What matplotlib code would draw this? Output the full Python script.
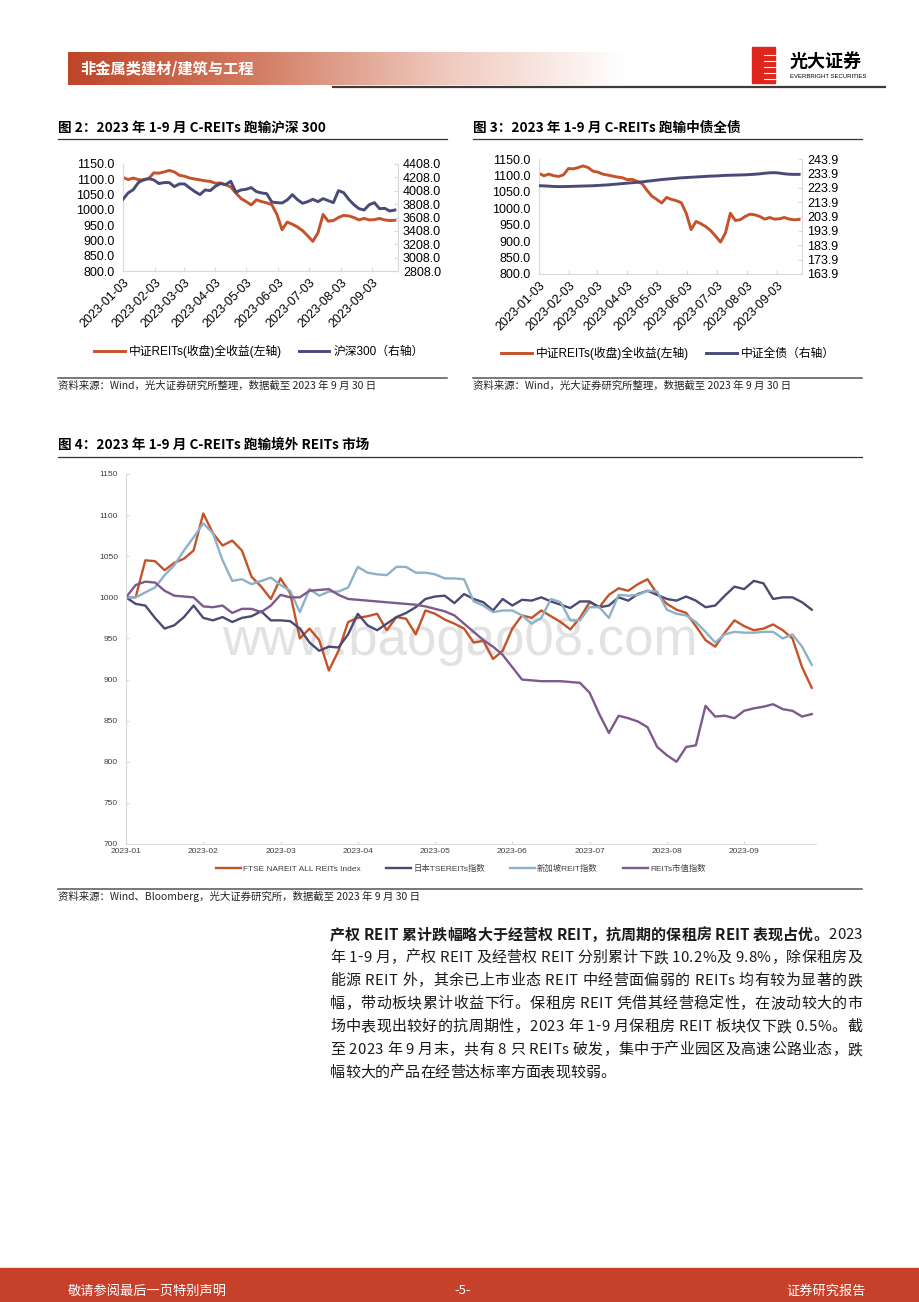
import numpy as np
import pandas as pd
import matplotlib
matplotlib.use("Agg")
import matplotlib.pyplot as plt
from matplotlib.colors import LinearSegmentedColormap
from matplotlib.patches import Rectangle
from matplotlib.ticker import FormatStrFormatter
from matplotlib.font_manager import FontProperties, findfont
from matplotlib.ft2font import FT2Font

plt.rcParams['font.family'] = ['Liberation Sans', 'Noto Sans CJK SC', 'DejaVu Sans']
plt.rcParams['axes.unicode_minus'] = False
CJK = ['Noto Sans CJK SC', 'DejaVu Sans']

W, H = 920, 1302

# 图2 / 图3 数据 (每5天取一个点, 从 2023-01-03 开始)
reits = [1106, 1099, 1104, 1099, 1097, 1102, 1121, 1120, 1124, 1129,
         1124, 1113, 1110, 1104, 1101, 1098, 1095, 1093, 1087, 1088,
         1082, 1075, 1055, 1037, 1027, 1016, 1033, 1027, 1023, 1017,
         985, 935, 960, 953, 944, 932, 915, 897, 925, 985,
         963, 965, 975, 982, 980, 975, 967, 972, 967, 968,
         972, 967, 965, 966]
hs300 = [3880, 3975, 4025, 4130, 4175, 4190, 4170, 4115, 4130, 4130,
         4070, 4110, 4110, 4050, 3995, 3950, 4020, 4010, 4075, 4115,
         4100, 4150, 3985, 4020, 4030, 4055, 3995, 3975, 3965, 3840,
         3830, 3825, 3870, 3950, 3875, 3820, 3845, 3880, 3845, 3890,
         3860, 3830, 4010, 3980, 3880, 3800, 3740, 3720, 3800, 3830,
         3740, 3745, 3705, 3720]
bond = [225.3, 225.2, 225.0, 224.8, 224.7, 224.7, 224.8, 224.9, 225.0, 225.1,
        225.2, 225.3, 225.5, 225.7, 225.9, 226.2, 226.5, 226.8, 227.1, 227.4,
        227.7, 228.0, 228.4, 228.8, 229.2, 229.6, 229.9, 230.2, 230.5, 230.8,
        231.0, 231.2, 231.4, 231.6, 231.8, 232.0, 232.1, 232.3, 232.5, 232.6,
        232.7, 232.8, 232.9, 233.1, 233.3, 233.6, 234.0, 234.3, 234.4, 234.1,
        233.6, 233.3, 233.2, 233.2]
dates = pd.date_range('2023-01-03', periods=len(reits), freq='5D')
month_ticks = pd.to_datetime([f'2023-{m:02d}-03' for m in range(1, 10)])

# 图4 数据 (每月8个点)
ftse = [1000, 1000, 1045, 1044, 1033, 1042, 1047, 1057, 1102, 1078,
        1063, 1069, 1057, 1025, 1013, 998, 1023, 1005, 950, 962,
        948, 911, 935, 970, 975, 977, 980, 960, 976, 974,
        955, 984, 980, 973, 968, 962, 945, 947, 925, 935,
        962, 978, 975, 984, 977, 970, 961, 975, 994, 988,
        1003, 1011, 1008, 1016, 1022, 1004, 992, 985, 981, 965,
        948, 940, 957, 972, 965, 960, 962, 967, 960, 950,
        915, 890]
tse = [1000, 992, 990, 975, 962, 966, 976, 990, 975, 972,
       976, 970, 975, 977, 983, 972, 972, 971, 962, 945,
       935, 940, 939, 955, 980, 966, 960, 968, 976, 981,
       988, 998, 1001, 1002, 993, 1004, 998, 994, 984, 998,
       990, 997, 996, 1000, 995, 991, 987, 995, 995, 988,
       990, 1000, 996, 1004, 1008, 1003, 998, 996, 1001, 996,
       988, 990, 1002, 1013, 1010, 1020, 1017, 998, 1000, 1000,
       994, 985]
sg = [1000, 1000, 1006, 1012, 1027, 1039, 1057, 1073, 1090, 1078,
      1045, 1020, 1022, 1016, 1020, 1024, 1015, 1008, 982, 1010,
      1002, 1007, 1007, 1012, 1037, 1030, 1028, 1027, 1037, 1037,
      1030, 1030, 1028, 1023, 1023, 1022, 995, 990, 982, 984,
      984, 978, 968, 975, 998, 994, 972, 972, 988, 988,
      975, 1003, 1002, 1003, 1008, 1007, 985, 980, 978, 970,
      958, 945, 955, 958, 957, 957, 958, 958, 950, 955,
      940, 918]
mv = [1000, 1015, 1019, 1018, 1008, 1002, 1001, 1000, 989, 988,
      990, 981, 986, 986, 982, 990, 1003, 1000, 1000, 1008,
      1009, 1010, 1003, 998, 997, 996, 995, 994, 993, 992,
      991, 989, 986, 983, 978, 968, 958, 948, 940, 930,
      915, 900, 899, 898, 898, 898, 897, 896, 884, 858,
      835, 856, 853, 849, 842, 818, 808, 800, 818, 820,
      868, 855, 856, 853, 862, 865, 867, 870, 864, 862,
      855, 858]
x4 = np.arange(len(ftse)) / 8
month_labels = [f'2023-{m:02d}' for m in range(1, 10)]
names4 = ['FTSE NAREIT ALL REITs Index', '日本TSEREITs指数', '新加坡REIT指数', 'REITs市值指数']

RED = '#c4532a'
NAVY = '#4a4a78'
GRID = '#d9d9d9'
TICK = 9

fig = plt.figure(figsize=(W / 100, H / 100), dpi=100)
fig.patch.set_facecolor('white')

# 背景层, 用像素坐标
bg = fig.add_axes([0, 0, 1, 1])
bg.axis('off')


def box(l, t, r, b):
    return [l / W, 1 - b / H, (r - l) / W, (b - t) / H]


# 页眉
grad = np.linspace(0, 1, 256).reshape(1, -1)
cm = LinearSegmentedColormap.from_list('hdr', ['#bf4527', '#d27b62', '#eec7bb', '#ffffff'])
bg.imshow(grad, cmap=cm, extent=[68, 625, 85, 52], aspect='auto', zorder=0)
bg.text(80, 69, '非金属类建材/建筑与工程', color='white', fontsize=11, fontweight='bold',
        family=CJK, va='center')
bg.plot([333, 885], [86.5, 86.5], color='#3c3c3c', lw=1.6)
bg.add_patch(Rectangle((752, 47), 23, 36, color='#e0261c'))
for yy in [55, 61, 67, 73, 79]:
    bg.plot([764, 776], [yy, yy], color='white', lw=0.8)
bg.text(790, 61, '光大证券', fontsize=13, fontweight='bold', family=CJK, va='center')
bg.text(790, 77, 'EVERBRIGHT SECURITIES', fontsize=4.3, va='center')

# 页脚
bg.add_patch(Rectangle((0, 1268), W, 34, color='#c7402a'))
bg.text(68, 1291, '敬请参阅最后一页特别声明', color='white', fontsize=9.5, family=CJK, va='center')
bg.text(463, 1291, '-5-', color='white', fontsize=9.5, family=CJK, va='center', ha='center')
bg.text(866, 1291, '证券研究报告', color='white', fontsize=9.5, family=CJK, va='center', ha='right')


def title(x, y, s, x2, yl):
    bg.text(x, y, s, fontsize=9.8, fontweight='bold', family=CJK, va='center')
    bg.plot([x, x2], [yl, yl], color='#333333', lw=0.9)


def source(x, y, s, x2, yl):
    bg.plot([x, x2], [yl, yl], color='#555555', lw=1.1)
    bg.text(x, y, s, fontsize=7.5, family=CJK, va='center', color='#222222')


title(58, 128, '图 2：2023 年 1-9 月 C-REITs 跑输沪深 300', 447, 138.5)
title(473, 128, '图 3：2023 年 1-9 月 C-REITs 跑输中债全债', 862, 138.5)
title(58, 445, '图 4：2023 年 1-9 月 C-REITs 跑输境外 REITs 市场', 862, 456.5)
source(58, 386, '资料来源：Wind，光大证券研究所整理，数据截至 2023 年 9 月 30 日', 447, 378)
source(473, 386, '资料来源：Wind，光大证券研究所整理，数据截至 2023 年 9 月 30 日', 862, 378)
source(58, 896, '资料来源：Wind、Bloomberg，光大证券研究所，数据截至 2023 年 9 月 30 日', 862, 889)


def style_pair(ax, axr):
    for a in (ax, axr):
        for s in a.spines.values():
            s.set_color(GRID)
            s.set_linewidth(0.8)
        a.spines['top'].set_visible(False)
    ax.spines['right'].set_visible(False)
    axr.spines['left'].set_visible(False)
    axr.spines['bottom'].set_visible(False)
    ax.tick_params(axis='y', length=0, pad=6, labelsize=TICK)
    ax.tick_params(axis='x', direction='in', length=3, color=GRID, pad=4, labelsize=TICK)
    axr.tick_params(axis='y', direction='in', length=3, color=GRID, pad=3.5, labelsize=TICK)
    ax.set_xlim(pd.Timestamp('2023-01-03'), pd.Timestamp('2023-09-28'))
    ax.set_xticks(month_ticks)
    ax.set_xticklabels([d.strftime('%Y-%m-%d') for d in month_ticks], rotation=45,
                       ha='right', va='top', rotation_mode='anchor')
    ax.set_ylim(800, 1150)
    ax.set_yticks(np.arange(800, 1151, 50))
    ax.yaxis.set_major_formatter(FormatStrFormatter('%.1f'))
    axr.yaxis.set_major_formatter(FormatStrFormatter('%.1f'))


# 图2
ax2 = fig.add_axes(box(123, 164, 398, 271))
ax2r = ax2.twinx()
h1, = ax2.plot(dates, reits, color=RED, lw=2.1)
h2, = ax2r.plot(dates, hs300, color=NAVY, lw=2.1)
style_pair(ax2, ax2r)
ax2r.set_ylim(2808, 4408)
ax2r.set_yticks(np.arange(2808, 4409, 200))
fig.legend([h1, h2], ['中证REITs(收盘)全收益(左轴)', '沪深300（右轴）'], loc='center',
           bbox_to_anchor=(259 / W, 1 - 351 / H), ncol=2, frameon=False, fontsize=8.5,
           handlelength=2.6, handletextpad=0.35, columnspacing=1.4)

# 图3
ax3 = fig.add_axes(box(539, 159, 802, 274))
ax3r = ax3.twinx()
h3, = ax3.plot(dates, reits, color=RED, lw=2.1)
h4, = ax3r.plot(dates, bond, color=NAVY, lw=2.1)
style_pair(ax3, ax3r)
ax3r.set_ylim(163.9, 243.9)
ax3r.set_yticks(np.linspace(163.9, 243.9, 9))
fig.legend([h3, h4], ['中证REITs(收盘)全收益(左轴)', '中证全债（右轴）'], loc='center',
           bbox_to_anchor=(668 / W, 1 - 353 / H), ncol=2, frameon=False, fontsize=8.5,
           handlelength=2.6, handletextpad=0.35, columnspacing=1.4)

# 图4
ax4 = fig.add_axes(box(126, 474, 816, 844))
ax4.text(0.484, 0.511, 'www.baogao08.com', transform=ax4.transAxes, fontsize=38,
         color='#e2e2e2', ha='center', va='baseline', zorder=0)
colors4 = [RED, '#4b4a73', '#8db1c9', '#7d5a8c']
hs = []
for ser, c in zip([ftse, tse, sg, mv], colors4):
    h, = ax4.plot(x4, ser, color=c, lw=1.7)
    hs.append(h)
ax4.set_xlim(0, 8.93)
ax4.set_ylim(700, 1150)
ax4.set_yticks(np.arange(700, 1151, 50))
ax4.set_xticks(range(9))
ax4.set_xticklabels(month_labels)
for s in ['top', 'right']:
    ax4.spines[s].set_visible(False)
for s in ['left', 'bottom']:
    ax4.spines[s].set_color(GRID)
    ax4.spines[s].set_linewidth(0.8)
ax4.tick_params(axis='y', direction='in', length=2, color=GRID, pad=5.8, labelsize=6,
                labelcolor='#404040')
ax4.tick_params(axis='x', direction='in', length=2, color=GRID, pad=3, labelsize=6,
                labelcolor='#404040')
leg4 = fig.legend(hs, names4, loc='center', bbox_to_anchor=(461 / W, 1 - 869 / H), ncol=4,
                  frameon=False, fontsize=6, handlelength=3.0, handletextpad=0.25,
                  columnspacing=3.0)
for t in leg4.get_texts():
    t.set_color('#404040')

# 正文 (两端对齐, 按字形步进宽度排字)
bg.set_xlim(0, W)
bg.set_ylim(H, 0)
FS = 10.8
TL, TR = 330, 862
para = [
    [('产权 REIT 累计跌幅略大于经营权 REIT，抗周期的保租房 REIT 表现占优。', 'bold'), ('2023', 'normal')],
    [('年 1-9 月，产权 REIT 及经营权 REIT 分别累计下跌 10.2%及 9.8%，除保租房及', 'normal')],
    [('能源 REIT 外，其余已上市业态 REIT 中经营面偏弱的 REITs 均有较为显著的跌', 'normal')],
    [('幅，带动板块累计收益下行。保租房 REIT 凭借其经营稳定性，在波动较大的市', 'normal')],
    [('场中表现出较好的抗周期性，2023 年 1-9 月保租房 REIT 板块仅下跌 0.5%。截', 'normal')],
    [('至 2023 年 9 月末，共有 8 只 REITs 破发，集中于产业园区及高速公路业态，跌', 'normal')],
    [('幅较大的产品在经营达标率方面表现较弱。', 'normal')],
]

fonts = {}
for wt in ('normal', 'bold'):
    f = FT2Font(findfont(FontProperties(family='Noto Sans CJK SC', weight=wt)))
    f.set_size(FS, 100)
    fonts[wt] = f


def adv(ch, wt):
    return fonts[wt].load_char(ord(ch)).linearHoriAdvance / 65536


for i, segs in enumerate(para):
    y = 935 + i * 23
    last = i == len(para) - 1
    items = [(ch, wt) for s, wt in segs for ch in s]
    advs = [adv(ch, wt) for ch, wt in items]
    total = sum(advs)
    extra = 0.0 if last else (TR - TL - total) / (len(items) - 1)
    x = TL
    for (ch, wt), a in zip(items, advs):
        if ch != ' ':
            bg.text(x, y, ch, fontsize=FS, family=CJK, fontweight=wt,
                    va='center', color='#1a1a1a')
        x += a + extra

fig.savefig('out.png', dpi=100)
